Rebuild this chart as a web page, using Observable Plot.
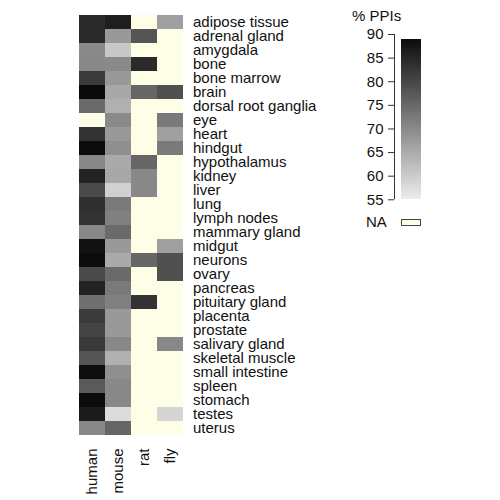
<!DOCTYPE html>
<html>
<head>
<meta charset="utf-8">
<script src="https://cdn.jsdelivr.net/npm/d3@7"></script>
<script src="https://cdn.jsdelivr.net/npm/@observablehq/plot@0.6"></script>
<style>
  html, body { margin: 0; padding: 0; background: #fff; }
  #wrap { position: relative; width: 500px; height: 500px; font-family: "Liberation Sans", Arial, sans-serif; }
  #main { position: absolute; left: 0; top: 0; }
  #legend { position: absolute; left: 340px; top: 0; }
  #ltitle { position: absolute; left: 352px; top: 7px; font-size: 15px; color: #111; }
  #natext { position: absolute; left: 366px; top: 213px; font-size: 15px; color: #111; }
  #nabox { position: absolute; left: 401px; top: 219px; width: 18px; height: 5px; border: 1px solid #444; }
</style>
</head>
<body>
<div id="wrap">
  <div id="main"></div>
  <div id="legend"></div>
  <div id="ltitle">% PPIs</div>
  <div id="natext">NA</div>
  <div id="nabox"></div>
</div>
<script>
const species = ["human", "mouse", "rat", "fly"];
const tissues = ["adipose tissue","adrenal gland","amygdala","bone","bone marrow","brain","dorsal root ganglia","eye","heart","hindgut","hypothalamus","kidney","liver","lung","lymph nodes","mammary gland","midgut","neurons","ovary","pancreas","pituitary gland","placenta","prostate","salivary gland","skeletal muscle","small intestine","spleen","stomach","testes","uterus"];
const human = [84.2,84.2,69.7,70.0,81.8,89.0,74.6,null,82.8,88.7,70.0,85.4,79.4,83.3,82.8,70.0,87.9,88.9,79.4,85.4,73.6,81.8,80.3,81.8,77.7,88.5,77.0,88.8,86.6,70.0];
const mouse = [86.0,67.5,60.4,69.7,67.5,65.2,64.0,69.7,67.5,69.0,64.9,65.2,59.2,72.1,71.2,74.6,67.5,64.9,74.6,72.1,71.2,67.5,67.5,70.0,64.0,69.0,70.0,70.0,57.4,75.2];
const rat   = [null,77.7,null,84.2,null,75.2,null,null,null,null,75.2,70.0,70.0,null,null,null,null,75.2,null,null,82.8,null,null,null,null,null,null,null,null,null];
const fly   = [66.4,null,null,null,null,78.5,null,72.1,66.4,72.1,null,null,null,null,null,null,66.4,78.5,78.5,null,null,null,null,70.0,null,null,null,null,58.5,null];
const legendTicks = [55, 60, 65, 70, 75, 80, 85, 90];

const series = {human, mouse, rat, fly};
const cells = tissues.flatMap((t, i) => species.map(s => ({tissue: t, species: s, v: series[s][i]})));
const naColor = "#fefee6";
const vmin = 55, vmax = d3.max(cells, d => d.v);
const colorOpts = {type: "linear", domain: [vmin, vmax], range: ["#ececec", "#0a0a0a"], interpolate: "rgb"};
const font = '"Liberation Sans", Arial, sans-serif';

document.getElementById("nabox").style.background = naColor;

const main = Plot.plot({
  width: 500,
  height: 500,
  marginLeft: 79,
  marginRight: 316.5,
  marginTop: 11.5,
  marginBottom: 61,
  style: {fontSize: "15px", fontFamily: font, color: "#111", background: "transparent"},
  x: {domain: species, padding: 0, label: null},
  y: {domain: tissues, padding: 0, label: null},
  color: colorOpts,
  marks: [
    Plot.cell(cells.filter(d => d.v == null), {x: "species", y: "tissue", fill: naColor, shapeRendering: "crispEdges"}),
    Plot.cell(cells.filter(d => d.v != null), {x: "species", y: "tissue", fill: "v", shapeRendering: "crispEdges"}),
    Plot.axisX({anchor: "bottom", tickSize: 0, tickPadding: 9, tickRotate: -90, label: null}),
    Plot.axisY({anchor: "right", tickSize: 0, tickPadding: 9, label: null})
  ]
});
document.getElementById("main").appendChild(main);

const step = 0.25;
const grad = d3.range(vmin, vmax, step).map(v => ({v, v2: Math.min(v + step * 2, vmax)}));
const legend = Plot.plot({
  width: 160,
  height: 240,
  marginLeft: 54,
  marginRight: 79,
  marginTop: 34,
  marginBottom: 40.7,
  style: {fontSize: "15px", fontFamily: font, color: "#111", background: "transparent"},
  x: {domain: [0, 1], range: [54, 81], axis: null},
  y: {domain: [55, 90], label: null},
  color: colorOpts,
  marks: [
    Plot.rect(grad, {x1: 0, x2: 1, y1: "v", y2: "v2", fill: "v", insetLeft: 7, shapeRendering: "crispEdges"}),
    Plot.ruleX([0], {y1: 55, y2: 90, stroke: "#333"}),
    Plot.axisY({ticks: legendTicks, tickSize: 6, tickPadding: 5, label: null, stroke: "#333"})
  ]
});
document.getElementById("legend").appendChild(legend);
</script>
</body>
</html>
